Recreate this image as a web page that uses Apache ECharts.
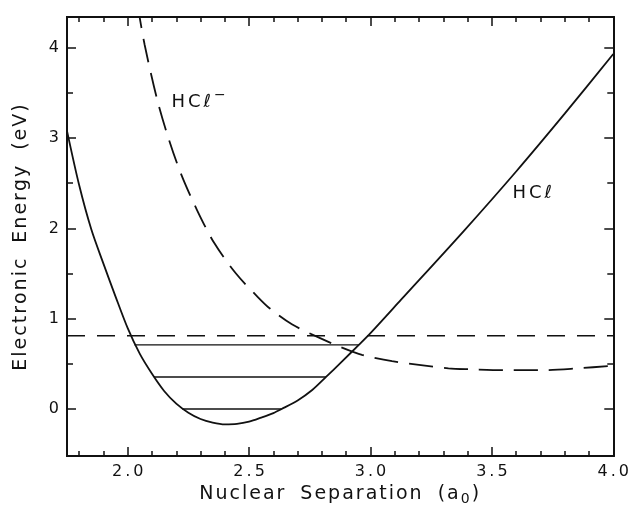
<!DOCTYPE html>
<html>
<head>
<meta charset="utf-8">
<script src="https://cdn.jsdelivr.net/npm/echarts@6/dist/echarts.min.js"></script>
<style>
  html, body { margin: 0; padding: 0; background: #ffffff; }
  #chart { width: 632px; height: 512px; }
</style>
</head>
<body>
<div id="chart"></div>
<script>
// Tick values (nuclear separation in bohr, energy in eV)
const xMajorTicks = [2.0, 2.5, 3.0, 3.5, 4.0];
const xMinorTicks = [1.8, 1.9, 2.1, 2.2, 2.3, 2.4, 2.6, 2.7, 2.8, 2.9,
                     3.1, 3.2, 3.3, 3.4, 3.6, 3.7, 3.8, 3.9];
const yMajorTicks = [0, 1, 2, 3, 4];
const yMinorTicks = [0.5, 1.5, 2.5, 3.5];

// Neutral HCl ground-state potential curve [R, E]
const hclCurve = [
  [1.75, 3.08], [1.80, 2.48], [1.85, 1.99], [1.90, 1.61], [1.95, 1.245],
  [2.00, 0.895], [2.05, 0.61], [2.10, 0.39], [2.15, 0.20], [2.20, 0.06],
  [2.25, -0.04], [2.30, -0.11], [2.35, -0.15], [2.40, -0.17], [2.45, -0.165],
  [2.50, -0.14], [2.55, -0.095], [2.60, -0.045], [2.634, 0.0], [2.70, 0.095],
  [2.76, 0.21], [2.817, 0.355], [2.88, 0.52], [2.952, 0.71], [3.00, 0.84],
  [3.126, 1.21], [3.384, 1.97], [3.60, 2.63], [3.80, 3.27], [4.0, 3.93]
];

// HCl⁻ anion potential curve [R, E]
const hclAnionCurve = [
  [2.04, 4.48], [2.07, 4.03], [2.121, 3.43], [2.166, 3.015], [2.22, 2.60],
  [2.286, 2.20], [2.356, 1.84], [2.446, 1.50], [2.536, 1.24], [2.587, 1.11],
  [2.678, 0.935], [2.788, 0.79], [2.883, 0.68], [2.965, 0.60], [3.089, 0.53],
  [3.321, 0.45], [3.416, 0.44], [3.562, 0.43], [3.709, 0.43], [3.853, 0.45],
  [4.0, 0.48]
];

// Vibrational levels of HCl: energy and classical turning points
const vibEnergy = [0.71, 0.355, 0.0];
const vibInner  = [2.028, 2.108, 2.225];
const vibOuter  = [2.952, 2.817, 2.634];

// Horizontal dashed reference energy
const thresholdEnergy = 0.81;
const xRange = [1.75, 4.0];
const yRange = [-0.52, 4.34];

// Curve names
const curveNames = ['HCℓ', 'HCℓ'];

const FONT = 'DejaVu Sans';
const INK = '#111111';

// Build a rich-text string with one token per character, so the
// per-token padding acts as letter spacing.
function tracked(str, style) {
  return str.split(' ').map(word =>
    word.split('').map(ch => '{' + style + '|' + ch + '}').join('')
  ).join('{g| }');
}

function frameAxis(dim, position, ticks, len, withLabels) {
  const isX = dim === 'x';
  return {
    type: 'value',
    position: position,
    min: isX ? xRange[0] : yRange[0],
    max: isX ? xRange[1] : yRange[1],
    axisLine: { show: true, onZero: false, lineStyle: { color: INK, width: 2 } },
    axisTick: { show: true, inside: true, length: len, customValues: ticks,
                lineStyle: { color: INK, width: 1.5 } },
    axisLabel: withLabels
      ? { show: true, customValues: ticks, color: INK, fontSize: 16, fontFamily: FONT,
          margin: 8,
          formatter: v => isX ? tracked(Number(v).toFixed(1), 'd') : String(Math.round(v)),
          rich: { d: { fontSize: 16, fontFamily: FONT, color: INK, padding: [0, 1.5, 0, 1.5] } } }
      : { show: false },
    splitLine: { show: false },
    minorTick: { show: false }
  };
}

const titleRich = {
  c: { fontSize: 19, fontFamily: FONT, color: INK, padding: [0, 2, 0, 0] },
  g: { fontSize: 19, fontFamily: FONT, color: INK, width: 14 },
  s: { fontSize: 14, fontFamily: FONT, color: INK, padding: [9, 2, 0, 0] }
};

const xAxes = [
  Object.assign(frameAxis('x', 'bottom', xMajorTicks, 9, true), {
    name: tracked('Nuclear Separation (a', 'c') + '{s|0}{c|)}',
    nameLocation: 'middle', nameGap: 19,
    nameTextStyle: { rich: titleRich }
  }),
  frameAxis('x', 'bottom', xMinorTicks, 5, false),
  frameAxis('x', 'top', xMajorTicks, 9, false),
  frameAxis('x', 'top', xMinorTicks, 5, false)
];

const yAxes = [
  Object.assign(frameAxis('y', 'left', yMajorTicks, 9, true), {
    name: tracked('Electronic Energy (eV)', 'c'),
    nameLocation: 'middle', nameGap: 36,
    nameTextStyle: { rich: titleRich }
  }),
  frameAxis('y', 'left', yMinorTicks, 6, false),
  frameAxis('y', 'right', yMajorTicks, 9, false),
  frameAxis('y', 'right', yMinorTicks, 6, false)
];

const series = [
  {
    name: 'HCl', type: 'line', data: hclCurve, smooth: 0.3, showSymbol: false,
    lineStyle: { color: INK, width: 1.8 }, z: 3
  },
  {
    name: 'HCl-', type: 'line', data: hclAnionCurve, smooth: 0.3, showSymbol: false,
    lineStyle: { color: INK, width: 1.8, type: [24, 11] }, z: 3
  },
  {
    name: 'threshold', type: 'line', showSymbol: false,
    data: [[xRange[0], thresholdEnergy], [xRange[1], thresholdEnergy]],
    lineStyle: { color: INK, width: 1.5, type: [18, 12] }
  }
];

vibEnergy.forEach((e, i) => {
  series.push({
    name: 'v' + i, type: 'line', showSymbol: false,
    data: [[vibInner[i], e], [vibOuter[i], e]],
    lineStyle: { color: INK, width: 1.4 }
  });
});

// Curve name labels anchored in data space
const labelAnchors = [[2.18, 3.40], [3.585, 2.39]];
series.push({
  name: 'labels', type: 'scatter', symbolSize: 0, silent: true,
  itemStyle: { color: INK, opacity: 1 },
  data: labelAnchors,
  label: {
    show: true, position: 'right', distance: 0, color: INK,
    textBorderWidth: 0,
    formatter: p => tracked(curveNames[p.dataIndex], 't') + (p.dataIndex === 0 ? '{m|−}' : ''),
    rich: {
      t: { fontSize: 18, fontFamily: FONT, color: INK, padding: [0, 3, 0, 0] },
      m: { fontSize: 14, fontFamily: FONT, color: INK, padding: [0, 0, 14, 0] }
    }
  }
});

const chart = echarts.init(document.getElementById('chart'), null, { renderer: 'canvas' });
chart.setOption({
  animation: false,
  backgroundColor: '#ffffff',
  grid: { left: 67, right: 15, top: 17, bottom: 56, containLabel: false },
  xAxis: xAxes,
  yAxis: yAxes,
  series: series
});
</script>
</body>
</html>
